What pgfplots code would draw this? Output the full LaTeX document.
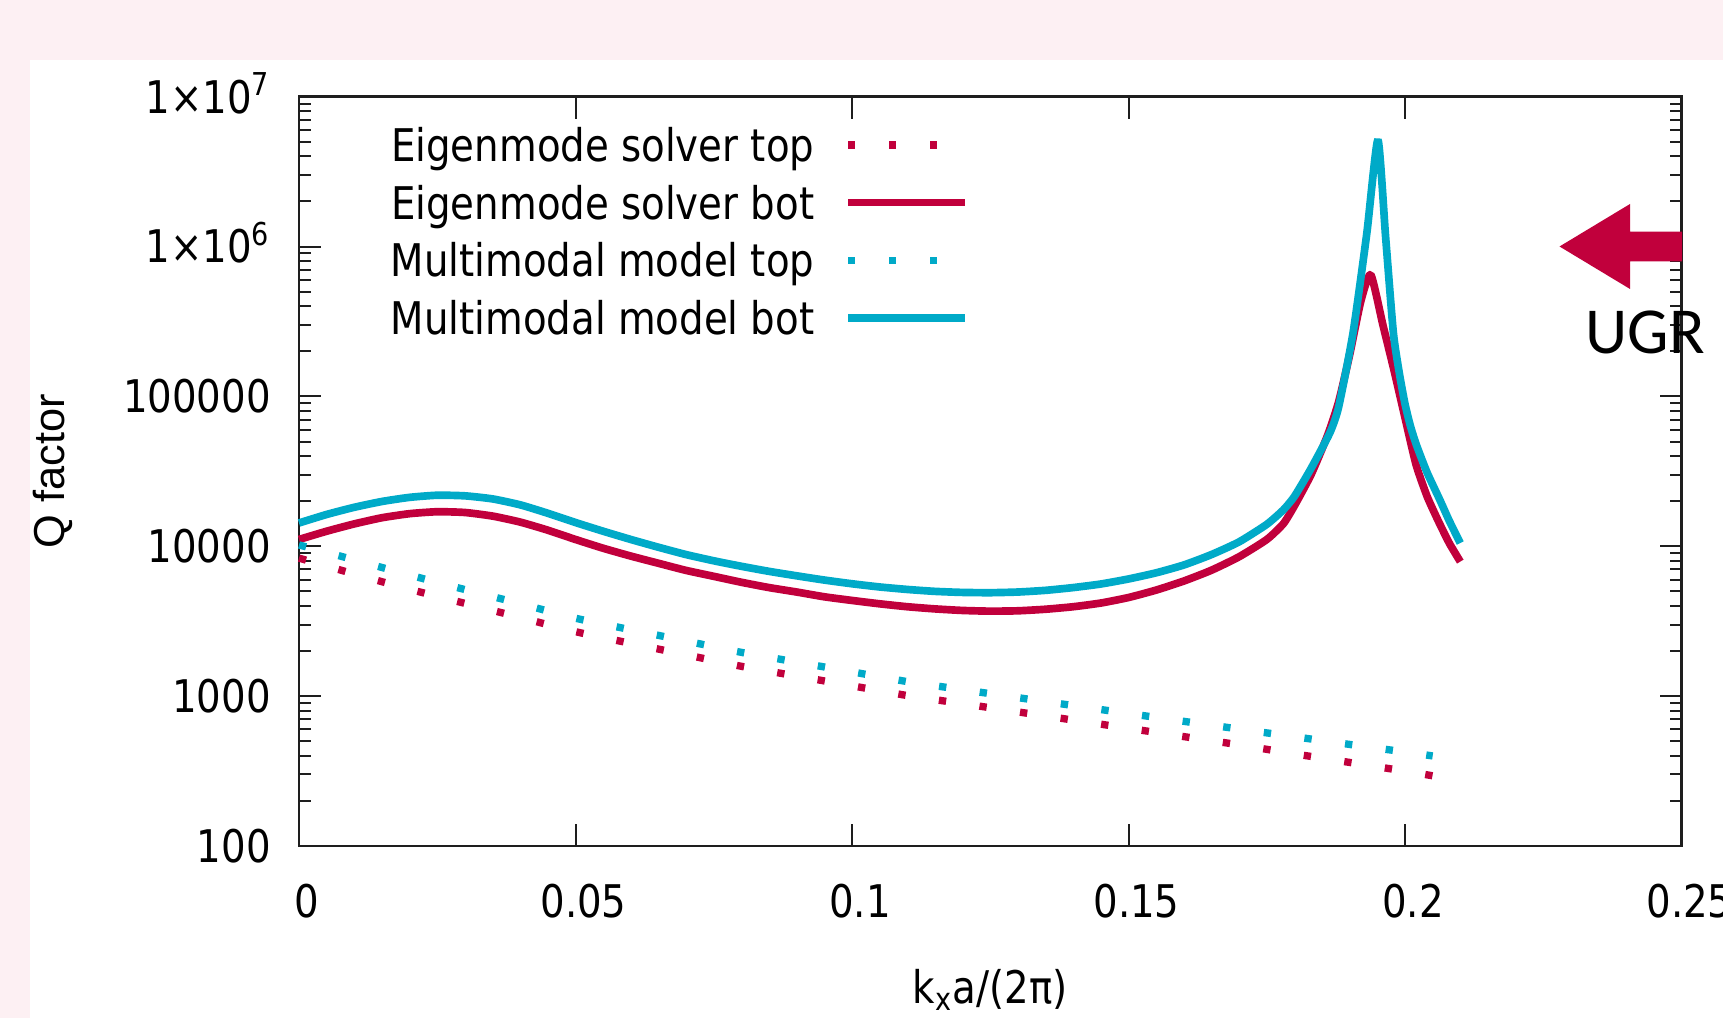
\documentclass[border=0pt]{standalone}
\usepackage{pgfplots}
\pgfplotsset{compat=1.18}
\usepackage{fontspec}
\setmainfont{DejaVu Sans}[FakeStretch=0.86]
\newfontfamily\liber{Liberation Sans}
\newfontfamily\carlito{Carlito}
\definecolor{bgpink}{RGB}{253,240,243}
\definecolor{cred}{RGB}{193,0,60}
\definecolor{ccyan}{RGB}{0,170,200}
\definecolor{axgray}{RGB}{30,30,30}
\begin{document}
\begin{tikzpicture}
\useasboundingbox (0,0) rectangle (516.9pt,305.4pt);
\begin{scope}
\clip (0,0) rectangle (516.9pt,305.4pt);
\fill[bgpink] (0,0) rectangle (516.9pt,305.4pt);
\fill[white] (9pt,0) rectangle (516.9pt,287.4pt);
\begin{axis}[
  at={(89.7pt,51.6pt)}, anchor=south west,
  scale only axis, width=414.75pt, height=224.8pt,
  xmin=0, xmax=0.25, ymin=100, ymax=1e7, ymode=log,
  xtick={0,0.05,0.1,0.15,0.2,0.25},
  xticklabels={0,0.05,0.1,0.15,0.2,0.25},
  ytick={100,1000,10000,100000,1000000,10000000},
  yticklabels={100,1000,10000,100000,1×10\textsuperscript{6},1×10\textsuperscript{7}},
  minor ytick={200,300,400,500,600,700,800,900,2000,3000,4000,5000,6000,7000,8000,9000,20000,30000,40000,50000,60000,70000,80000,90000,200000,300000,400000,500000,600000,700000,800000,900000,2000000,3000000,4000000,5000000,6000000,7000000,8000000,9000000},
  tick align=inside, xtick pos=both, ytick pos=both,
  major tick length=6.6pt, minor tick length=3.6pt,
  tick style={axgray, line width=0.6pt},
  axis line style={axgray, line width=0.75pt},
  tick label style={font=\fontsize{13.5}{16}\selectfont},
  xticklabel style={anchor=base, yshift=-21.5pt, xshift=2.4pt, inner sep=0pt},
  yticklabel style={anchor=base east, xshift=-8.25pt, yshift=-4.92pt, inner sep=0pt},
  xlabel={k\textsubscript{x}a/(2π)},
  xlabel style={at={(axis description cs:0.5,-0.192)}, anchor=center, font=\fontsize{13.5}{16}\selectfont},
  ylabel={Q factor},
  ylabel style={at={(axis description cs:-0.178,0.5)}, anchor=center, font=\liber\fontsize{13}{15}\selectfont},
  no markers, clip=false,
  legend plot pos=right,
  legend cell align=right,
  legend style={draw=none, fill=none, inner sep=0pt, outer sep=0pt, anchor=north east,
    at={(axis description cs:0.4846,0.9574)}, font=\fontsize{13.5}{16}\selectfont,
    row sep=7.45pt, column sep=9pt, nodes={inner sep=0pt, text height=9.84pt, text depth=0pt}},
  legend image code/.code={\draw[#1] (0pt,0pt) -- (35.1pt,0pt);},
]
\addplot[cred, line width=2.2pt, dash pattern=on 2.2pt off 10.1pt, line cap=butt, smooth, tension=0.4] coordinates {
(0.000,8337) (0.010,6531) (0.020,5164) (0.030,4159) (0.040,3350) (0.050,2692)
(0.060,2249) (0.070,1888) (0.080,1581) (0.090,1361) (0.100,1172) (0.110,1009)
(0.120,891) (0.130,785) (0.140,692) (0.150,610) (0.160,537) (0.170,473)
(0.180,412) (0.190,361) (0.200,316) (0.205,294)};
\addplot[cred, line width=2.3pt, line join=bevel, smooth, tension=0.35] coordinates {
(0.000,11100) (0.005,12600) (0.010,14100) (0.015,15500) (0.020,16500) (0.025,17000)
(0.030,16800) (0.035,15900) (0.040,14500) (0.045,12800) (0.050,11100) (0.055,9700)
(0.060,8600) (0.065,7700) (0.070,6900) (0.075,6300) (0.080,5750) (0.085,5300)
(0.090,4950) (0.095,4600) (0.100,4350) (0.105,4130) (0.110,3950) (0.115,3820)
(0.120,3730) (0.125,3690) (0.130,3710) (0.135,3800) (0.140,3950) (0.145,4180)
(0.150,4550) (0.155,5100) (0.160,5860) (0.165,6920) (0.170,8510) (0.175,11090)
(0.178,14130) (0.180,18620) (0.183,30000) (0.186,55000) (0.188,92000) (0.190,190000)
(0.192,430000) (0.1938,650000) (0.196,300000) (0.198,150000) (0.200,72000)
(0.202,35000) (0.204,21500) (0.206,14800) (0.208,10500) (0.210,7900)};
\addplot[ccyan, line width=2.2pt, dash pattern=on 2.2pt off 10.1pt, line cap=butt, smooth, tension=0.4] coordinates {
(0.000,10210) (0.010,8110) (0.020,6427) (0.030,5140) (0.040,4140) (0.050,3311)
(0.060,2773) (0.070,2333) (0.080,1959) (0.090,1687) (0.100,1452) (0.110,1250)
(0.120,1104) (0.130,977) (0.140,865) (0.150,766) (0.160,679) (0.170,603)
(0.180,536) (0.190,476) (0.200,424) (0.205,399)};
\addplot[ccyan, line width=2.3pt, line join=bevel, smooth, tension=0.35] coordinates {
(0.000,14300) (0.005,16300) (0.010,18200) (0.015,19900) (0.020,21200) (0.025,21900)
(0.030,21700) (0.035,20700) (0.040,18900) (0.045,16600) (0.050,14400) (0.055,12600)
(0.060,11100) (0.065,9850) (0.070,8800) (0.075,8000) (0.080,7350) (0.085,6800)
(0.090,6350) (0.095,5950) (0.100,5620) (0.105,5350) (0.110,5150) (0.115,5000)
(0.120,4920) (0.125,4900) (0.130,4950) (0.135,5080) (0.140,5300) (0.145,5600)
(0.150,6050) (0.155,6650) (0.160,7500) (0.165,8800) (0.170,10700) (0.175,14000)
(0.178,17500) (0.180,21500) (0.183,33000) (0.1864,57000) (0.188,85000)
(0.1906,265000) (0.1931,1230000) (0.1951,5140000) (0.1965,1150000) (0.1979,265000)
(0.199,141000) (0.200,89000) (0.201,63000) (0.2021,47000) (0.204,31000)
(0.2063,20400) (0.208,14800) (0.210,10500)};
\legend{Eigenmode solver top, Eigenmode solver bot, Multimodal model top, Multimodal model bot}
\end{axis}
\begin{scope}[x=0.3pt,y=0.3pt]
\fill[cred] (1559.5,771.5) -- (1630,814) -- (1630,786.3) -- (1682,786.3) -- (1682,756.5) -- (1630,756.5) -- (1630,729) -- cycle;
\node[anchor=base west, inner sep=0pt, font=\carlito\fontsize{19.7}{22}\selectfont] at (1585,664) {UGR};
\end{scope}
\end{scope}
\end{tikzpicture}
\end{document}
